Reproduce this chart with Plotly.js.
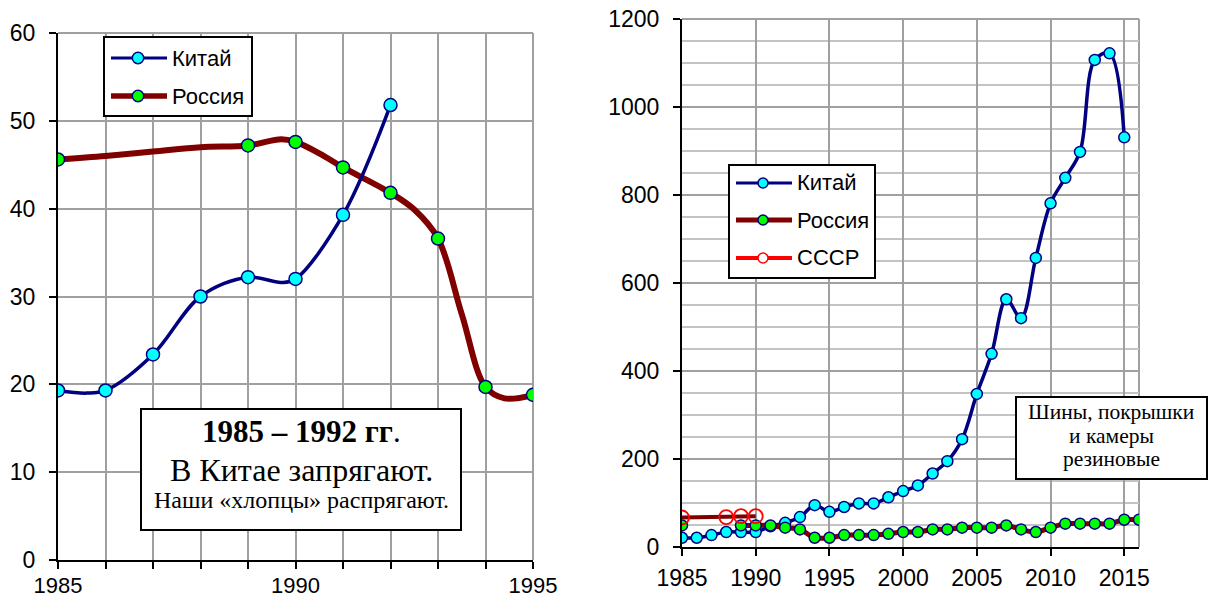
<!DOCTYPE html>
<html><head><meta charset="utf-8">
<script src="https://cdn.plot.ly/plotly-3.0.1.min.js"></script>
<style>html,body{margin:0;padding:0;background:#fff}#chart{width:1213px;height:600px}</style>
</head><body><div id="chart"></div>
<script>
const W = 1213, H = 600;

// ---------- Left chart data (1985-1995) ----------
const leftXTickLabels = [1985, 1990, 1995];
const leftYTickVals = [0, 10, 20, 30, 40, 50, 60];
const chinaLeftYears = [1985, 1986, 1987, 1988, 1989, 1990, 1991, 1992];
const chinaLeftValues = [19.3, 19.3, 23.4, 30.0, 32.2, 32.0, 39.3, 51.8];
const chinaLeftLineYears = [1985, 1985.6, 1986, 1987, 1988, 1989, 1989.7, 1990, 1991, 1992];
const chinaLeftLineValues = [19.3, 19.0, 19.3, 23.4, 30.0, 32.2, 31.6, 32.0, 39.3, 51.8];
const russiaLeftYears = [1985, 1989, 1990, 1991, 1992, 1993, 1994, 1995];
const russiaLeftValues = [45.6, 47.2, 47.6, 44.7, 41.8, 36.6, 19.7, 18.8];
const russiaLeftLineYears = [1985, 1986, 1987, 1988, 1989, 1989.7, 1990, 1990.5, 1991, 1992, 1992.5, 1993, 1993.5, 1994, 1994.4, 1995];
const russiaLeftLineValues = [45.6, 46.0, 46.5, 47.0, 47.2, 47.9, 47.6, 46.3, 44.7, 41.8, 39.9, 36.6, 28.0, 19.7, 18.4, 18.8];

// ---------- Right chart data (1985-2016) ----------
const rightXTickLabels = [1985, 1990, 1995, 2000, 2005, 2010, 2015];
const rightYTickVals = [0, 200, 400, 600, 800, 1000, 1200];
const chinaRightYears = [1985,1986,1987,1988,1989,1990,1991,1992,1993,1994,1995,1996,1997,1998,1999,2000,2001,2002,2003,2004,2005,2006,2007,2008,2009,2010,2011,2012,2013,2014,2015];
const chinaRightValues = [21,21,27,34,34,34,47,55,68,95,80,91,99,99,113,127,140,167,195,245,348,439,563,520,657,781,839,898,1107,1122,931];
const russiaRightYears = [1985,1986,1987,1988,1989,1990,1991,1992,1993,1994,1995,1996,1997,1998,1999,2000,2001,2002,2003,2004,2005,2006,2007,2008,2009,2010,2011,2012,2013,2014,2015,2016];
const russiaRightValues = [49,null,null,null,49,49,49,44,40,21,21,27,27,27,30,34,34,40,40,44,44,44,49,40,34,44,53,53,53,53,62,62];
const ussrYears = [1985, 1988, 1989, 1990];
const ussrValues = [67, 68, 70, 70];

// ---------- Labels ----------
const seriesNames = ['Китай', 'Россия', 'СССР'];
const leftNoteLines = ['<b>1985 – 1992 гг</b>.', 'В Китае запрягают.', 'Наши «хлопцы» распрягают.'];
const rightNoteLines = ['Шины, покрышки', 'и камеры', 'резиновые'];

// ---------- Styles ----------
const NAVY = '#000080', MAROON = '#800000', CYAN = '#00FFFF', GREEN = '#00FF00', RED = '#FF0000';
const GRID = '#a0a0a0';
const SANS = 'Liberation Sans, Arial, sans-serif';
const SERIF = 'Liberation Serif, Times New Roman, serif';

const px = x => x / W;
const py = y => 1 - y / H;

const traces = [
  // left: Russia line & markers
  {x: russiaLeftLineYears, y: russiaLeftLineValues, xaxis: 'x', yaxis: 'y', mode: 'lines',
   line: {color: MAROON, width: 6, shape: 'spline'}, showlegend: false, hoverinfo: 'skip'},
  {x: russiaLeftYears, y: russiaLeftValues, xaxis: 'x', yaxis: 'y', mode: 'markers', name: seriesNames[1],
   marker: {size: 13, color: GREEN, line: {color: NAVY, width: 1.5}}, showlegend: false},
  // left: China line & markers
  {x: chinaLeftLineYears, y: chinaLeftLineValues, xaxis: 'x', yaxis: 'y', mode: 'lines',
   line: {color: NAVY, width: 3.5, shape: 'spline'}, showlegend: false, hoverinfo: 'skip'},
  {x: chinaLeftYears, y: chinaLeftValues, xaxis: 'x', yaxis: 'y', mode: 'markers', name: seriesNames[0],
   marker: {size: 13, color: CYAN, line: {color: NAVY, width: 1.5}}, showlegend: false},
  // right
  {x: chinaRightYears, y: chinaRightValues, xaxis: 'x2', yaxis: 'y2', mode: 'lines+markers', name: seriesNames[0],
   line: {color: NAVY, width: 3.5, shape: 'spline'},
   marker: {size: 11, color: CYAN, line: {color: NAVY, width: 1.5}}, showlegend: false},
  {x: russiaRightYears, y: russiaRightValues, xaxis: 'x2', yaxis: 'y2', mode: 'lines+markers', name: seriesNames[1],
   connectgaps: false, line: {color: MAROON, width: 5, shape: 'spline'},
   marker: {size: 11, color: GREEN, line: {color: NAVY, width: 1.5}}, showlegend: false},
  {x: ussrYears, y: ussrValues, xaxis: 'x2', yaxis: 'y2', mode: 'lines+markers', name: seriesNames[2],
   line: {color: MAROON, width: 4, shape: 'linear'},
   marker: {size: 14, color: 'rgba(255,255,255,0)', line: {color: RED, width: 1.8}}, showlegend: false}
];

// ---------- Shapes & annotations ----------
const shapes = [];
const annotations = [];

// plot borders (top/right grid lines)
[['x','y'],['x2','y2']].forEach(([xa, ya]) => {
  shapes.push({type: 'line', xref: xa + ' domain', yref: ya + ' domain', x0: 1, x1: 1, y0: 0, y1: 1,
    line: {color: GRID, width: 2}, layer: 'below'});
  shapes.push({type: 'line', xref: xa + ' domain', yref: ya + ' domain', x0: 0, x1: 1, y0: 1, y1: 1,
    line: {color: GRID, width: 2}, layer: 'below'});
});

function legendBox(x0, y0, x1, y1, items) {
  shapes.push({type: 'rect', xref: 'paper', yref: 'paper', x0: px(x0), x1: px(x1), y0: py(y0), y1: py(y1),
    line: {color: '#000', width: 2}, fillcolor: '#fff', layer: 'above'});
  items.forEach(it => {
    shapes.push({type: 'line', xref: 'paper', yref: 'paper', x0: px(it.lx0), x1: px(it.lx1), y0: py(it.y), y1: py(it.y),
      line: {color: it.lineColor, width: it.lineWidth}, layer: 'above'});
    const r = it.r;
    shapes.push({type: 'circle', xref: 'paper', yref: 'paper', xsizemode: 'pixel', ysizemode: 'pixel',
      xanchor: px(it.mx), yanchor: py(it.y), x0: -r, x1: r, y0: -r, y1: r,
      fillcolor: it.fill, line: {color: it.edge, width: 1.5}, layer: 'above'});
    annotations.push({xref: 'paper', yref: 'paper', x: px(it.tx), y: py(it.y), xanchor: 'left', yanchor: 'middle',
      text: it.text, showarrow: false, font: {family: SANS, size: it.fs, color: '#000'}});
  });
}

legendBox(104, 37, 252, 116, [
  {y: 58, lx0: 111, lx1: 167, mx: 138, tx: 170, lineColor: NAVY, lineWidth: 3, r: 5.7, fill: CYAN, edge: NAVY, text: seriesNames[0], fs: 22},
  {y: 96, lx0: 111, lx1: 167, mx: 138, tx: 170, lineColor: MAROON, lineWidth: 5.5, r: 5.7, fill: GREEN, edge: NAVY, text: seriesNames[1], fs: 22}
]);
legendBox(729, 165, 875, 278, [
  {y: 183, lx0: 736, lx1: 792, mx: 763, tx: 795, lineColor: NAVY, lineWidth: 3, r: 5, fill: CYAN, edge: NAVY, text: seriesNames[0], fs: 22},
  {y: 220, lx0: 736, lx1: 792, mx: 763, tx: 795, lineColor: MAROON, lineWidth: 5, r: 5, fill: GREEN, edge: NAVY, text: seriesNames[1], fs: 22},
  {y: 258, lx0: 736, lx1: 792, mx: 763, tx: 795, lineColor: RED, lineWidth: 4, r: 5, fill: '#fff', edge: RED, text: seriesNames[2], fs: 22}
]);

// note boxes
shapes.push({type: 'rect', xref: 'paper', yref: 'paper', x0: px(141), x1: px(461), y0: py(409), y1: py(530),
  line: {color: '#000', width: 2}, fillcolor: '#fff', layer: 'above'});
[[431, 31], [470, 32], [500, 24]].forEach(([y, fs], i) => {
  annotations.push({xref: 'paper', yref: 'paper', x: px(301), y: py(y), xanchor: 'center', yanchor: 'middle',
    text: leftNoteLines[i], showarrow: false, font: {family: SERIF, size: fs, color: '#000'}});
});
shapes.push({type: 'rect', xref: 'paper', yref: 'paper', x0: px(1016), x1: px(1207), y0: py(397), y1: py(479),
  line: {color: '#000', width: 2}, fillcolor: '#fff', layer: 'above'});
[412, 436, 459].forEach((y, i) => {
  annotations.push({xref: 'paper', yref: 'paper', x: px(1111), y: py(y), xanchor: 'center', yanchor: 'middle',
    text: rightNoteLines[i], showarrow: false, font: {family: SERIF, size: 21.5, color: '#000'}});
});

const tickFont = {family: SANS, size: 23, color: '#000'};
const baseAxis = {showline: true, linecolor: '#000', linewidth: 2, ticks: 'outside', ticklen: 7, tickwidth: 2,
  tickcolor: '#000', showgrid: true, gridcolor: GRID, gridwidth: 2, zeroline: false, tickfont: tickFont, fixedrange: true};

const layout = {
  width: W, height: H, margin: {l: 0, r: 0, t: 0, b: 0},
  paper_bgcolor: '#fff', plot_bgcolor: '#fff', showlegend: false, hovermode: false,
  xaxis: Object.assign({}, baseAxis, {domain: [px(58), px(533)], range: [1985, 1995], anchor: 'y',
    tickvals: leftXTickLabels, ticktext: leftXTickLabels.map(String), ticklabelstandoff: 0, ticklen: 5,
    tickfont: {family: SANS, size: 22, color: '#000'},
    minor: {dtick: 1, tick0: 1985, showgrid: true, gridcolor: GRID, gridwidth: 2, ticks: 'outside', ticklen: 7, tickcolor: '#000'}}),
  yaxis: Object.assign({}, baseAxis, {domain: [py(560), py(33)], range: [0, 60], anchor: 'x',
    tickvals: leftYTickVals, ticklabelstandoff: 9}),
  xaxis2: Object.assign({}, baseAxis, {domain: [px(682), px(1139)], range: [1985, 2016], anchor: 'y2',
    tickvals: rightXTickLabels, ticktext: rightXTickLabels.map(String), ticklabelstandoff: 2}),
  yaxis2: Object.assign({}, baseAxis, {domain: [py(547), py(19)], range: [0, 1200], anchor: 'x2',
    tickvals: rightYTickVals, ticklabelstandoff: 9,
    minor: {dtick: 50, tick0: 0, showgrid: true, gridcolor: '#c4c4c4', gridwidth: 1.5}}),
  shapes: shapes, annotations: annotations
};

Plotly.newPlot('chart', traces, layout, {staticPlot: true, displayModeBar: false});
</script>
</body></html>
